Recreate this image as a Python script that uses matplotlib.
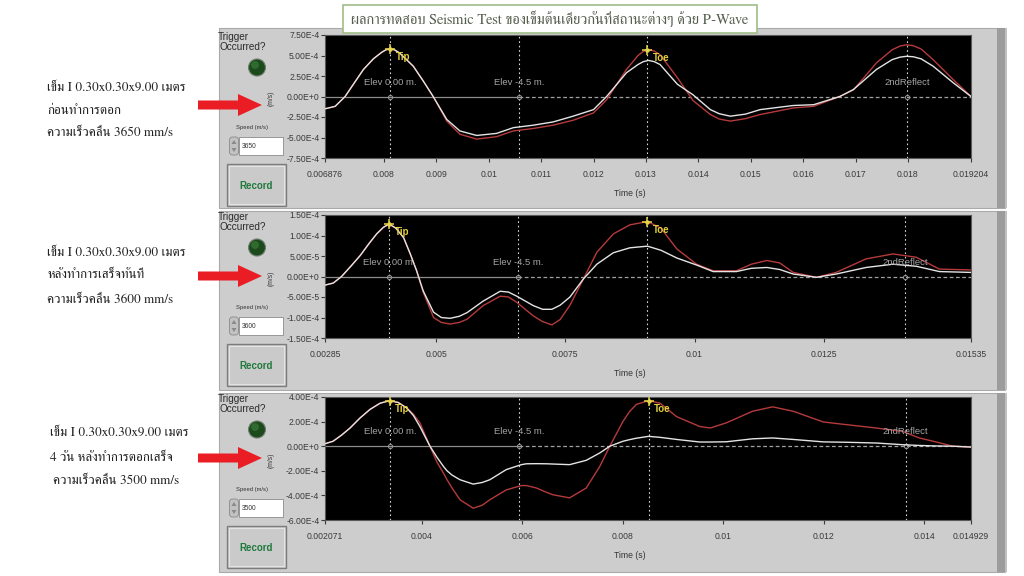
import numpy as np
import matplotlib
matplotlib.use("Agg")
import matplotlib.pyplot as plt
from matplotlib import font_manager
from matplotlib.ft2font import FT2Font
from matplotlib.patches import Rectangle, Circle, Polygon, FancyBboxPatch
import matplotlib.transforms as mtransforms

# ---------------- DATA ----------------
title_text = "ผลการทดสอบ Seismic Test ของเข็มต้นเดียวกันที่สถานะต่างๆ ด้วย P-Wave"
side_lines_1 = ["เข็ม I 0.30x0.30x9.00 เมตร", "ก่อนทำการตอก", "ความเร็วคลื่น 3650 mm/s"]
side_lines_2 = ["เข็ม I 0.30x0.30x9.00 เมตร", "หลังทำการเสร็จทันที", "ความเร็วคลื่น 3600 mm/s"]
side_lines_3 = ["เข็ม I 0.30x0.30x9.00 เมตร", "4 วัน หลังทำการตอกเสร็จ", "ความเร็วคลื่น 3500 mm/s"]
speeds = ["3650", "3600", "3500"]

# Panel 1 (time s, velocity in units of 1E-4 m/s)
t1 = [0.006876, 0.00707, 0.00726, 0.00745, 0.00761, 0.00780, 0.00796, 0.00804, 0.00812, 0.00820,
      0.00830, 0.00856, 0.00875, 0.00894, 0.00920, 0.00945, 0.00977, 0.01015, 0.01047, 0.01085,
      0.01123, 0.01161, 0.01200, 0.01225, 0.01263, 0.01285, 0.01295, 0.01305, 0.01316, 0.01327,
      0.01360, 0.01390, 0.01423, 0.01440, 0.01461, 0.01490, 0.01518, 0.01581, 0.01620, 0.01670,
      0.01696, 0.01740, 0.01770, 0.01785, 0.01797, 0.01810, 0.01825, 0.01848, 0.01886, 0.019204]
white1 = [-1.5, -1.2, 0.0, 1.8, 3.3, 4.6, 5.4, 5.7, 5.8, 5.7,
          5.3, 3.7, 1.9, 0.0, -2.8, -4.2, -4.75, -4.5, -3.8, -3.5,
          -3.1, -2.4, -1.6, 0.0, 2.9, 3.9, 4.25, 4.4, 4.25, 3.9,
          1.5, 0.2, -1.6, -2.1, -2.4, -2.15, -1.6, -1.1, -1.0, 0.0,
          0.85, 3.3, 4.5, 4.8, 4.9, 4.85, 4.6, 3.7, 1.7, 0.0]
red1 = [-1.5, -1.2, 0.0, 1.8, 3.3, 4.6, 5.4, 5.7, 5.8, 5.7,
        5.3, 3.7, 1.9, 0.0, -3.0, -4.6, -5.2, -4.9, -4.2, -3.9,
        -3.5, -2.9, -2.0, -0.4, 3.3, 5.0, 5.5, 5.7, 5.55, 5.1,
        2.3, -0.5, -2.2, -2.75, -3.0, -2.7, -2.2, -1.4, -1.2, 0.0,
        0.8, 4.1, 5.7, 6.15, 6.3, 6.2, 5.8, 4.5, 2.1, 0.0]

# Panel 2
t2 = [0.00285, 0.00301, 0.00317, 0.00335, 0.00353, 0.00370, 0.00385, 0.00398, 0.00409, 0.00422,
      0.00437, 0.00450, 0.00462, 0.00475, 0.00495, 0.00510, 0.00527, 0.00545, 0.00560, 0.00591,
      0.00624, 0.00640, 0.00656, 0.00688, 0.00706, 0.00724, 0.00740, 0.00759, 0.00785, 0.00811,
      0.00843, 0.00875, 0.00909, 0.00935, 0.00966, 0.01004, 0.01036, 0.01081, 0.01110, 0.01140,
      0.01165, 0.01191, 0.01236, 0.01274, 0.01332, 0.01384, 0.01429, 0.01474, 0.01535]
white2 = [-0.21, -0.16, 0.0, 0.25, 0.51, 0.80, 1.04, 1.20, 1.28, 1.18,
          0.95, 0.55, 0.15, -0.35, -0.87, -1.00, -1.02, -0.97, -0.88, -0.60,
          -0.36, -0.38, -0.48, -0.71, -0.80, -0.80, -0.70, -0.50, -0.06, 0.30,
          0.58, 0.70, 0.74, 0.64, 0.45, 0.28, 0.12, 0.12, 0.20, 0.22,
          0.17, 0.06, -0.02, 0.06, 0.22, 0.30, 0.25, 0.12, 0.10]
red2 = [-0.21, -0.16, 0.0, 0.25, 0.51, 0.80, 1.04, 1.20, 1.28, 1.18,
        0.95, 0.55, 0.15, -0.38, -1.00, -1.12, -1.16, -1.12, -1.04, -0.71,
        -0.48, -0.50, -0.63, -0.96, -1.10, -1.18, -1.05, -0.70, -0.06, 0.59,
        1.04, 1.26, 1.34, 1.18, 0.67, 0.30, 0.14, 0.14, 0.30, 0.39,
        0.33, 0.10, -0.02, 0.10, 0.43, 0.55, 0.47, 0.18, 0.16]

# Panel 3
t3 = [0.002071, 0.00223, 0.00240, 0.00257, 0.00277, 0.00297, 0.00317, 0.00336, 0.00353, 0.00370,
      0.00383, 0.00396, 0.00416, 0.00430, 0.00443, 0.00450, 0.00460, 0.00476, 0.00502, 0.00520,
      0.00535, 0.00568, 0.00598, 0.00608, 0.00628, 0.00648, 0.00661, 0.00694, 0.00727, 0.00754,
      0.00774, 0.00800, 0.00813, 0.00827, 0.00851, 0.00874, 0.00907, 0.00953, 0.00974, 0.01006,
      0.01058, 0.01098, 0.01139, 0.01199, 0.01245, 0.01304, 0.01357, 0.01390, 0.01424, 0.01457,
      0.014929]
white3 = [0.2, 0.4, 0.9, 1.48, 2.3, 3.0, 3.5, 3.7, 3.55, 3.1,
          2.5, 1.6, 0.0, -0.9, -1.65, -2.0, -2.35, -2.73, -3.08, -2.95,
          -2.73, -1.9, -1.5, -1.43, -1.42, -1.43, -1.45, -1.5, -1.15, -0.55,
          0.0, 0.4, 0.53, 0.65, 0.8, 0.72, 0.55, 0.34, 0.34, 0.36,
          0.6, 0.67, 0.55, 0.35, 0.32, 0.26, 0.12, 0.06, 0.02, 0.0,
          -0.07]
red3 = [0.2, 0.4, 0.9, 1.48, 2.3, 3.0, 3.5, 3.7, 3.55, 3.1,
        2.6, 1.9, 0.0, -1.3, -2.2, -2.73, -3.4, -4.36, -5.04, -4.8,
        -4.36, -3.55, -3.2, -3.2, -3.4, -3.75, -3.95, -4.2, -3.4, -1.65,
        0.0, 2.0, 2.8, 3.4, 3.7, 3.5, 2.4, 1.6, 1.48, 1.9,
        2.84, 3.2, 2.84, 1.97, 1.75, 1.48, 1.2, 0.67, 0.34, 0.0,
        -0.07]

# cursors: tip, elev(-4.5 m), toe, 2nd reflect ; marker heights in 1E-4
cursors1 = dict(tip=0.00812, elev=0.01058, toe=0.01303, refl=0.01798, tip_y=5.8, toe_y=5.7)
cursors2 = dict(tip=0.00409, elev=0.00659, toe=0.00909, refl=0.01407, tip_y=1.28, toe_y=1.34)
cursors3 = dict(tip=0.00336, elev=0.00593, toe=0.00851, refl=0.01363, tip_y=3.7, toe_y=3.7)

xticks1 = [0.006876, 0.008, 0.009, 0.010, 0.011, 0.012, 0.013, 0.014, 0.015, 0.016, 0.017, 0.018, 0.019204]
xlabels1 = ["0.006876", "0.008", "0.009", "0.01", "0.011", "0.012", "0.013", "0.014", "0.015", "0.016", "0.017", "0.018", "0.019204"]
xticks2 = [0.00285, 0.005, 0.0075, 0.01, 0.0125, 0.01535]
xlabels2 = ["0.00285", "0.005", "0.0075", "0.01", "0.0125", "0.01535"]
xticks3 = [0.002071, 0.004, 0.006, 0.008, 0.010, 0.012, 0.014, 0.014929]
xlabels3 = ["0.002071", "0.004", "0.006", "0.008", "0.01", "0.012", "0.014", "0.014929"]

yticks1 = [7.5, 5.0, 2.5, 0.0, -2.5, -5.0, -7.5]
ylabels1 = ["7.50E-4", "5.00E-4", "2.50E-4", "0.00E+0", "-2.50E-4", "-5.00E-4", "-7.50E-4"]
yticks2 = [1.5, 1.0, 0.5, 0.0, -0.5, -1.0, -1.5]
ylabels2 = ["1.50E-4", "1.00E-4", "5.00E-5", "0.00E+0", "-5.00E-5", "-1.00E-4", "-1.50E-4"]
yticks3 = [4.0, 2.0, 0.0, -2.0, -4.0, -6.0]
ylabels3 = ["4.00E-4", "2.00E-4", "0.00E+0", "-2.00E-4", "-4.00E-4", "-6.00E-4"]

# ---------------- FONTS ----------------
def find_thai_fonts():
    serif, other, seen = [], [], set()
    for f in font_manager.fontManager.ttflist:
        if f.name in seen:
            continue
        try:
            cm = FT2Font(f.fname).get_charmap()
        except Exception:
            continue
        if 0x0E01 in cm and 0x0E40 in cm and 0x0E48 in cm:
            seen.add(f.name)
            n = f.name.lower()
            if "serif" in n or "norasi" in n or "kinnari" in n or "tlwg" in n:
                serif.append(f.name)
            else:
                other.append(f.name)
    return serif + other

thai_fonts = find_thai_fonts()
THAI_FAM = thai_fonts[:2] + ["Liberation Serif", "DejaVu Sans"]
UI_FAM = ["Liberation Sans", "DejaVu Sans"]

# ---------------- FIGURE ----------------
W, H = 1024, 576
fig = plt.figure(figsize=(W / 100, H / 100), dpi=100)
fig.patch.set_facecolor("white")
ov = fig.add_axes([0, 0, 1, 1])
ov.set_xlim(0, W)
ov.set_ylim(H, 0)
ov.axis("off")

panel_tops = [28, 211, 393]
panel_bottoms = [208, 390, 572]
axes_tops = [35, 215, 397]
side_texts = [side_lines_1, side_lines_2, side_lines_3]
side_y = [[88, 111, 133], [253, 275, 300], [433, 458, 481]]
side_x = [[47, 47, 47], [47, 47, 47], [50, 50, 53]]
arrow_y = [105, 276, 458]

PANEL = "#cdcdcd"
for i in range(3):
    pt, pb, at = panel_tops[i], panel_bottoms[i], axes_tops[i]
    ov.add_patch(Rectangle((219, pt), 786, pb - pt, facecolor=PANEL, edgecolor="#a9a9a9", lw=0.8, zorder=1))
    ov.add_patch(Rectangle((997, pt), 8, pb - pt, facecolor="#9c9c9c", edgecolor="none", zorder=1.2))
    ov.add_patch(Rectangle((1005, pt), 2, pb - pt, facecolor="#c0c0c0", edgecolor="none", zorder=1.2))
    # trigger
    ov.text(218, at + 1.5, "Trigger", fontsize=7.2, family=UI_FAM, color="#2a2a2a", va="center", ha="left", zorder=3)
    ov.text(220, at + 12.5, "Occurred?", fontsize=7.2, family=UI_FAM, color="#2a2a2a", va="center", ha="left", zorder=3)
    ov.add_patch(Circle((257, at + 32.5), 8.5, facecolor="#1d4a1d", edgecolor="#6f7f6f", lw=0.8, zorder=3))
    ov.add_patch(Circle((255, at + 30), 4.0, facecolor="#2f6a2f", edgecolor="none", zorder=3.1))
    ov.text(271, at + 63, "(m/s)", fontsize=4.8, family=UI_FAM, color="#333333", rotation=90, va="center", ha="center", zorder=3)
    ov.text(252, at + 93, "Speed (m/s)", fontsize=4.2, family=UI_FAM, color="#333333", va="center", ha="center", zorder=3)
    # spin box
    ov.add_patch(FancyBboxPatch((229.5, at + 102), 9, 18, boxstyle="round,pad=0,rounding_size=3",
                                facecolor="#c2c2c2", edgecolor="#8a8a8a", lw=0.6, zorder=3))
    ov.add_patch(Polygon([[231.5, at + 109], [236.5, at + 109], [234, at + 105]], closed=True, facecolor="#8a8a8a", zorder=3.1))
    ov.add_patch(Polygon([[231.5, at + 113], [236.5, at + 113], [234, at + 117]], closed=True, facecolor="#8a8a8a", zorder=3.1))
    ov.add_patch(Rectangle((239, at + 102), 44, 18, facecolor="white", edgecolor="#8a8a8a", lw=0.6, zorder=3))
    ov.text(242, at + 111, speeds[i], fontsize=4.8, family=UI_FAM, color="#333333", va="center", ha="left", zorder=3.2)
    # record button
    ov.add_patch(Rectangle((227, at + 129), 59, 42, facecolor="#cacaca", edgecolor="#7c7c7c", lw=1.0, zorder=3))
    ov.add_patch(Rectangle((229, at + 131), 55, 38, facecolor="none", edgecolor="#e4e4e4", lw=0.8, zorder=3.1))
    ov.text(256.5, at + 151, "Record", fontsize=7, family=UI_FAM, fontweight="bold", color="#1f7a3c",
            va="center", ha="center", zorder=3.2)
    # Time label
    ov.text(630, at + 159, "Time (s)", fontsize=6.2, family=UI_FAM, color="#333333", va="center", ha="center", zorder=3)
    # side texts
    for line, yy, xx in zip(side_texts[i], side_y[i], side_x[i]):
        ov.text(xx, yy, line, fontsize=9.5, family=THAI_FAM, color="#222222", va="center", ha="left", zorder=3)
    # red arrow
    ay = arrow_y[i]
    ov.add_patch(Polygon([[198, ay - 4.5], [238, ay - 4.5], [238, ay - 11], [262, ay], [238, ay + 11],
                          [238, ay + 4.5], [198, ay + 4.5]], closed=True, facecolor="#ea1c24",
                         edgecolor="none", zorder=4))

# title box
ov.add_patch(Rectangle((343, 5), 414, 28, facecolor="white", edgecolor="#9fbd88", lw=1.2, zorder=5))
ov.text(550, 19, title_text, fontsize=10.5, family=THAI_FAM, color="#56604f", va="center", ha="center", zorder=6)

# ---------------- PLOTS ----------------
series = [(t1, white1, red1, cursors1, xticks1, xlabels1, yticks1, ylabels1, 0.61),
          (t2, white2, red2, cursors2, xticks2, xlabels2, yticks2, ylabels2, 0.61),
          (t3, white3, red3, cursors3, xticks3, xlabels3, yticks3, ylabels3, 0.72)]

AX_L, AX_W, AX_H = 325, 646, 123
for i, (t, wv, rv, cur, xt, xl, yt, yl, lab_y) in enumerate(series):
    at = axes_tops[i]
    ax = fig.add_axes([AX_L / W, 1 - (at + AX_H) / H, AX_W / W, AX_H / H])
    ax.set_facecolor("black")
    t = np.array(t)
    ax.set_xlim(t[0], t[-1])
    ax.set_ylim(min(yt), max(yt))
    # zero line: solid left of elev cursor, dashed to the right
    ax.plot([t[0], cur["elev"]], [0, 0], color="#8c8c8c", lw=0.9, zorder=1)
    ax.plot([cur["elev"], t[-1]], [0, 0], color="#a0a0a0", lw=0.9, ls=(0, (3, 2)), zorder=1)
    for key in ("tip", "elev", "toe", "refl"):
        ax.axvline(cur[key], color="#d8d8d8", lw=0.8, ls=(0, (1.5, 2.5)), zorder=1.5)
    for key in ("tip", "elev", "refl"):
        ax.plot([cur[key]], [0], marker="o", ms=3, mfc="none", mec="#9a9a9a", mew=0.7, zorder=2)
    ax.plot(t, np.array(rv), color="#b53a3c", lw=1.0, zorder=3, solid_joinstyle="round")
    ax.plot(t, np.array(wv), color="#e4e4e4", lw=1.0, zorder=4, solid_joinstyle="round")
    for key, lab in (("tip", "Tip"), ("toe", "Toe")):
        ax.plot([cur[key]], [cur[key + "_y"]], marker="+", ms=7, mew=1.1, color="#e8d44a", zorder=5)
        ax.plot([cur[key]], [cur[key + "_y"]], marker="o", ms=2.2, color="#e8d44a", zorder=5)
        ax.annotate(lab, (cur[key], cur[key + "_y"]), xytext=(4, -6), textcoords="offset points",
                    fontsize=7, family=UI_FAM, color="#e3cf3e", fontweight="bold", va="center", ha="left", zorder=6)
    tr = mtransforms.blended_transform_factory(ax.transData, ax.transAxes)
    for key, lab in (("tip", "Elev 0.00 m."), ("elev", "Elev -4.5 m."), ("refl", "2ndReflect")):
        ax.text(cur[key], lab_y, lab, transform=tr, fontsize=6.8, family=UI_FAM, color="#a4a4a4",
                va="center", ha="center", zorder=6)
    ax.set_xticks(xt)
    ax.set_xticklabels(xl)
    ax.set_yticks(yt)
    ax.set_yticklabels(yl)
    ax.tick_params(axis="x", length=3, width=0.8, pad=5.5, labelsize=6.2, colors="#3a3a3a", direction="out")
    ax.tick_params(axis="y", length=3, width=0.8, pad=1.0, labelsize=6.2, colors="#3a3a3a", direction="out")
    for lbl in ax.get_xticklabels() + ax.get_yticklabels():
        lbl.set_family(UI_FAM)
    for sp in ax.spines.values():
        sp.set_color("#5a5a5a")
        sp.set_linewidth(0.8)

fig.savefig("out.png", dpi=100, facecolor="white")
